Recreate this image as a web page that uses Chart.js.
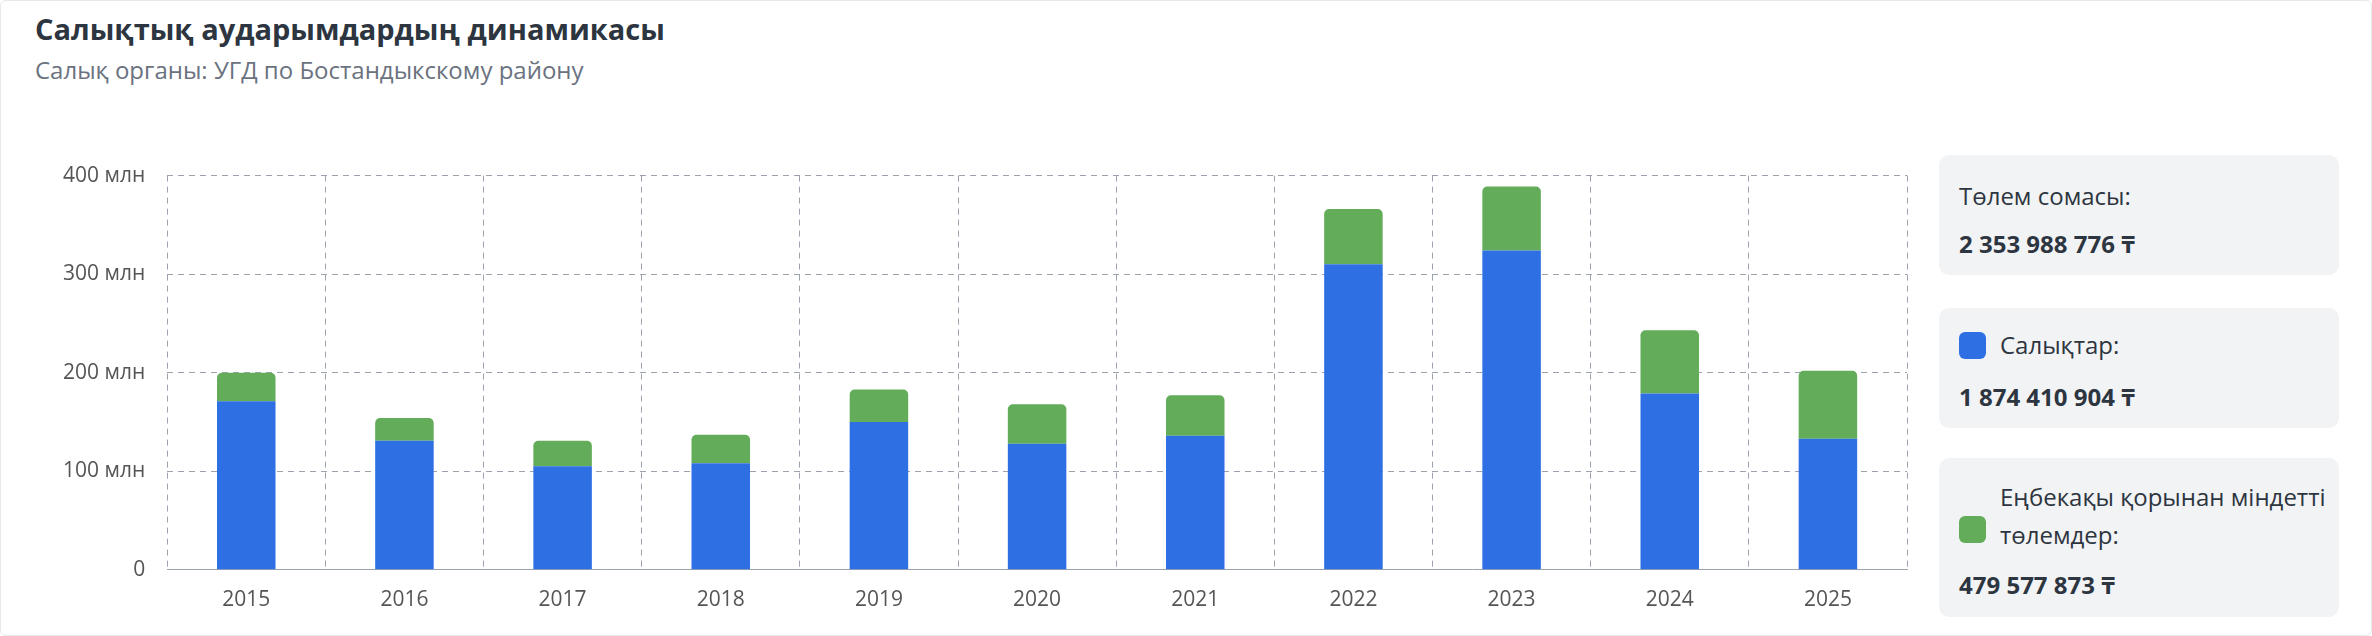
<!DOCTYPE html>
<html><head><meta charset="utf-8">
<script src="https://cdn.jsdelivr.net/npm/chart.js@4"></script>
<style>
body{margin:0;background:#fff;font-family:"Open Sans","Noto Sans",sans-serif;}
#page{position:absolute;left:0;top:0;width:2370px;height:634px;border:1px solid #e6e8eb;border-radius:6px;}
h1{position:absolute;left:34px;top:8px;margin:0;font-size:29px;font-weight:700;color:#2d3540;}
.sub{position:absolute;left:34px;top:52px;font-size:24px;color:#6b7280;}
#wrap{position:absolute;left:40px;top:140px;width:1880px;height:490px;}
.box{position:absolute;left:1938px;width:400px;background:#f2f3f5;border-radius:10px;color:#2d3540;font-size:24px;}
.box .v{font-weight:700;}
.sw{display:inline-block;width:27px;height:27px;border-radius:6px;vertical-align:-5px;margin-right:14px;}
</style></head><body>
<div id="page">
<h1>Салықтық аударымдардың динамикасы</h1>
<div class="sub">Салық органы: УГД по Бостандыкскому району</div>
<div id="wrap"><canvas id="c"></canvas></div>
<div class="box" style="top:154px;height:120px;"><div style="position:absolute;left:20px;top:24px;">Төлем сомасы:</div><div class="v" style="position:absolute;left:20px;top:72px;">2 353 988 776 ₸</div></div>
<div class="box" style="top:307px;height:120px;"><div style="position:absolute;left:20px;top:20px;"><span class="sw" style="background:#2f6fe4"></span>Салықтар:</div><div class="v" style="position:absolute;left:20px;top:72px;">1 874 410 904 ₸</div></div>
<div class="box" style="top:457px;height:159px;"><div style="position:absolute;left:20px;top:20px;width:370px;line-height:38px;"><span class="sw" style="background:#63ad5a;position:absolute;left:0;top:38px;"></span><div style="margin-left:41px;">Еңбекақы қорынан міндетті төлемдер:</div></div><div class="v" style="position:absolute;left:20px;top:110px;">479 577 873 ₸</div></div>
</div>
<script>
const years = ['2015','2016','2017','2018','2019','2020','2021','2022','2023','2024','2025'];
const taxes = [171,131,105,108,150,128,136,310,324,179,133];
const payroll = [29,23,26,29,33,40,41,56,65,64,69];
const yTicks = [0,100,200,300,400];

new Chart(document.getElementById('c'), {
  type: 'bar',
  data: {
    labels: years,
    datasets: [
      {label:'Салықтар', data: taxes, backgroundColor:'#2f6fe4', barPercentage:0.37, categoryPercentage:1},
      {label:'Еңбекақы', data: payroll, backgroundColor:'#63ad5a', barPercentage:0.37, categoryPercentage:1,
       borderRadius:{topLeft:5,topRight:5}, borderSkipped:'bottom'}
    ]
  },
  options: {
    responsive:true, maintainAspectRatio:false, animation:false,
    layout:{padding:{top:20,right:14}},
    plugins:{legend:{display:false}, tooltip:{enabled:false}},
    scales:{
      x:{stacked:true,
         grid:{color:'#9ca3af',tickLength:0,drawTicks:false},
         border:{dash:[6,5],color:'#9ca3af'},
         ticks:{color:'#555',font:{size:21,family:'Open Sans'},padding:18}},
      y:{stacked:true,min:0,max:400,
         afterBuildTicks:a=>{a.ticks=yTicks.map(v=>({value:v}));},
         grid:{color:'#9ca3af',drawTicks:false},
         border:{dash:[6,5],display:false},
         ticks:{color:'#555',font:{size:21,family:'Open Sans'},padding:22,
                callback:v=>v===0?'0':v+' млн'}}
    }
  }
});
</script>
</body></html>
